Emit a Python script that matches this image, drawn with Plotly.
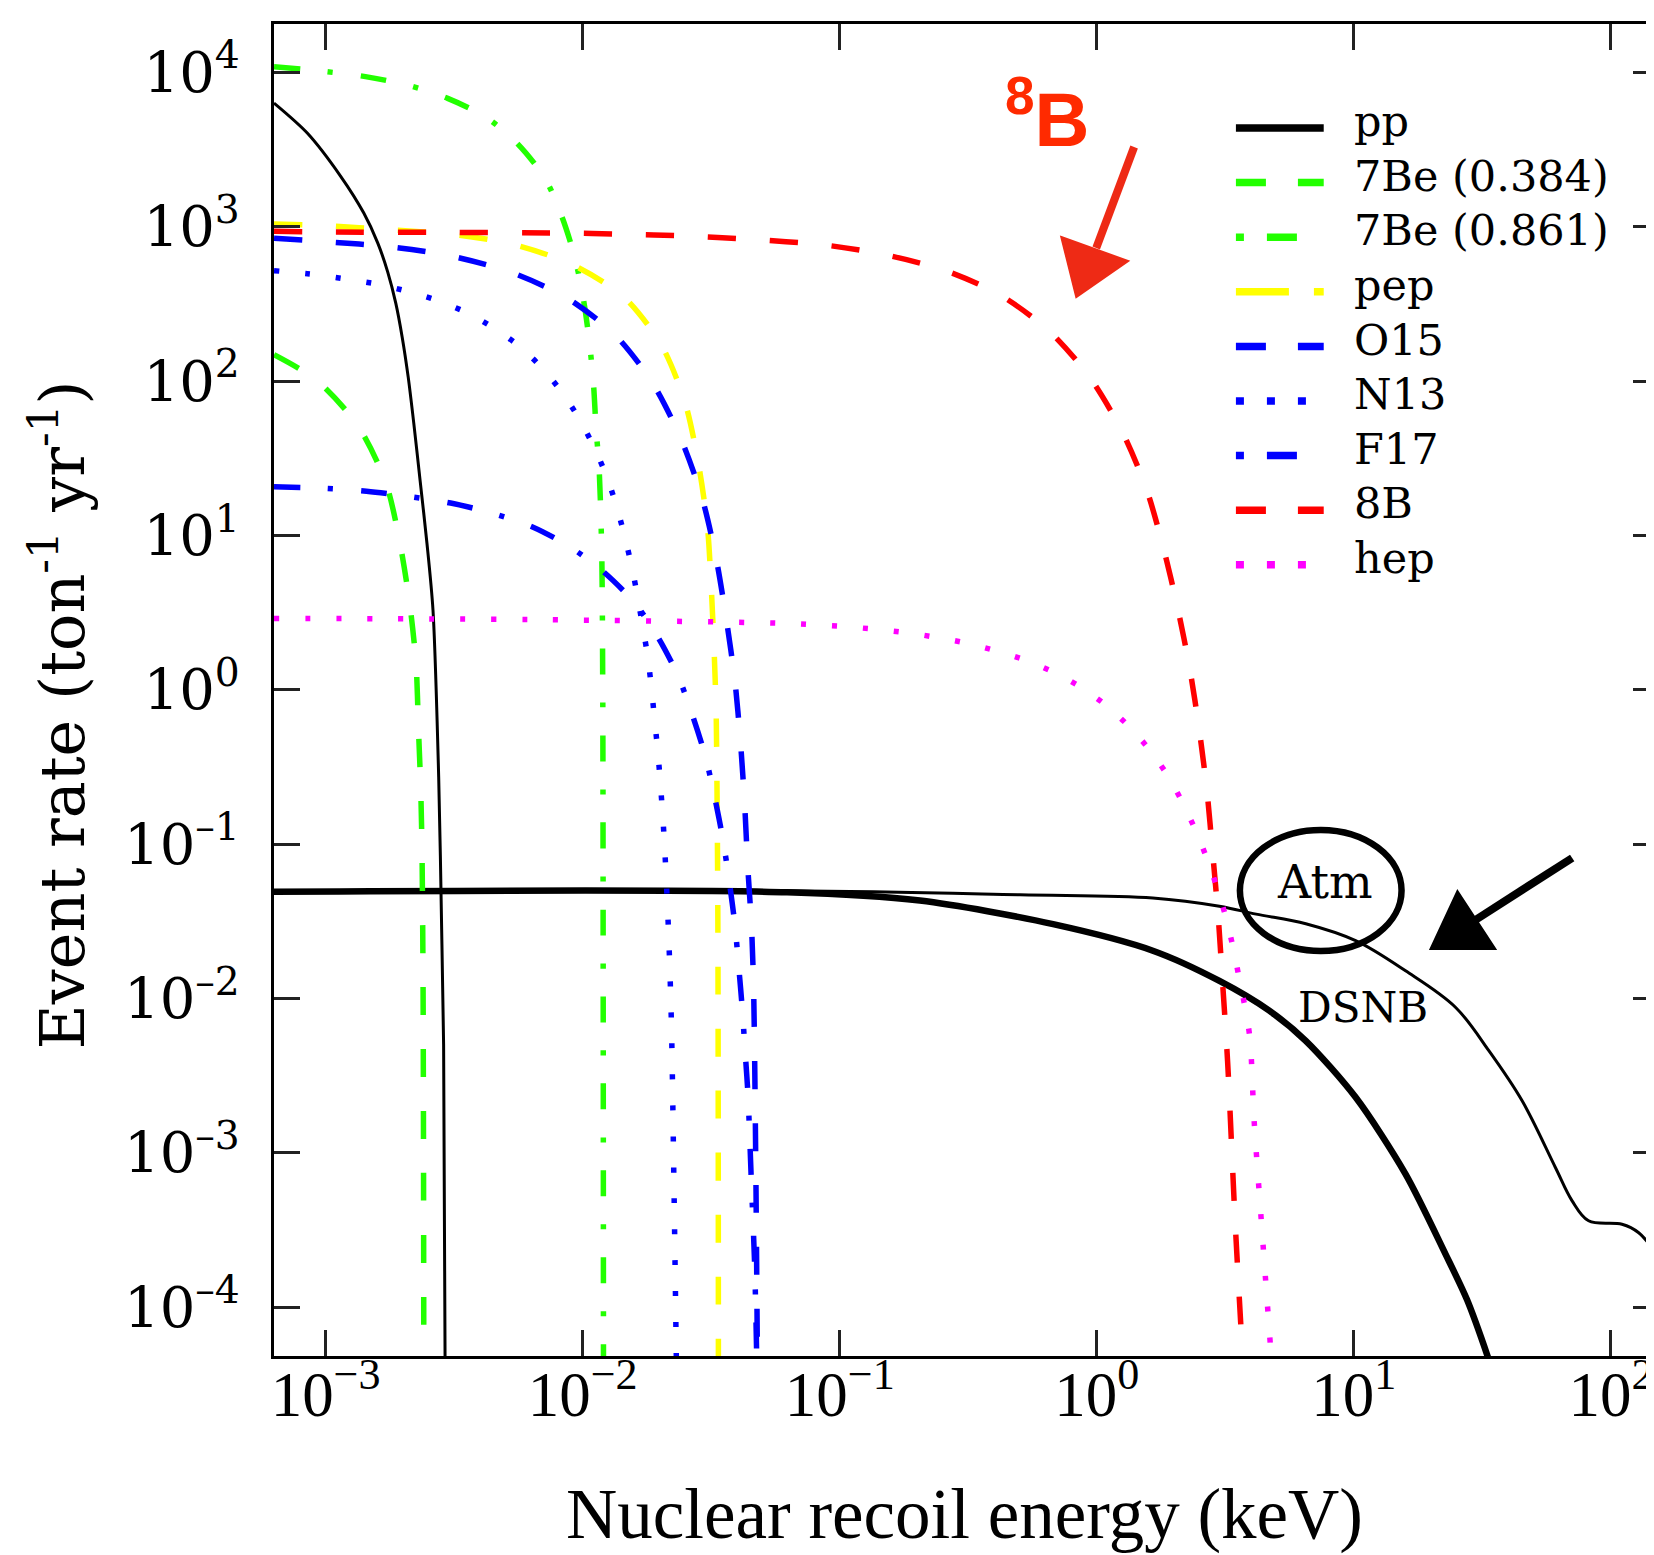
import plotly.graph_objects as go

# ---------------- data (E in keV, rate in ton^-1 yr^-1) ----------------
pp_E = [6.30e-4, 8.484e-4, 1.143e-3, 1.408e-3, 1.596e-3, 1.745e-3, 1.875e-3, 1.986e-3,
        2.096e-3, 2.203e-3, 2.333e-3, 2.479e-3, 2.617e-3, 2.754e-3, 2.835e-3, 2.878e-3,
        2.922e-3]
pp_R = [6320, 4043, 2128, 1225, 783, 508, 319.8, 192.5, 106.0, 53.4, 22.45, 8.90, 3.276,
        0.271, 0.02242, 5.04e-3, 2.2e-5]

be384_E = [6.30e-4, 9.23e-4, 1.334e-3, 1.710e-3, 1.928e-3, 2.123e-3, 2.249e-3, 2.296e-3,
           2.344e-3, 2.371e-3, 2.393e-3, 2.404e-3, 2.410e-3]
be384_R = [148, 101, 51.5, 22.3, 9.73, 3.64, 1.46, 0.577, 0.230, 0.0912, 0.0143, 1e-3, 4e-5]

be861_E = [6.30e-4, 9.84e-4, 1.429e-3, 2.094e-3, 2.985e-3, 4.236e-3, 5.598e-3, 7.145e-3,
           8.318e-3, 9.333e-3, 1.007e-2, 1.062e-2, 1.102e-2, 1.127e-2, 1.159e-2, 1.186e-2,
           1.197e-2, 1.202e-2, 1.205e-2]
be861_R = [10860, 10140, 9380, 8240, 6780, 5080, 3430, 2050, 1153, 627, 338, 179, 95.5,
           50.0, 26.9, 7.94, 1.0, 0.01, 4e-5]

pep_E = [6.30e-4, 1.021e-3, 1.770e-3, 3.076e-3, 5.297e-3, 8.974e-3, 1.439e-2, 2.028e-2,
         2.500e-2, 2.818e-2, 3.055e-2, 3.162e-2, 3.243e-2, 3.304e-2, 3.327e-2, 3.357e-2, 3.373e-2]
pep_R = [1040, 1014, 955, 895, 771, 575, 353, 170, 72.9, 29.4, 11.6, 4.69, 1.87, 0.736,
         0.292, 0.0316, 4e-5]

o15_E = [6.30e-4, 1.021e-3, 1.770e-3, 3.055e-3, 5.236e-3, 8.670e-3, 1.340e-2, 1.879e-2,
         2.421e-2, 2.917e-2, 3.304e-2, 3.622e-2, 3.908e-2, 4.111e-2, 4.266e-2, 4.385e-2,
         4.539e-2, 4.624e-2, 4.710e-2, 4.786e-2]
o15_R = [843, 798, 741, 647, 508, 346, 198, 95.9, 41.6, 17.4, 7.14, 2.85, 1.15, 0.457,
         0.182, 0.0729, 0.0289, 0.01146, 1e-3, 4e-5]

n13_E = [6.30e-4, 9.20e-4, 1.213e-3, 1.600e-3, 2.084e-3, 2.710e-3, 3.516e-3, 4.477e-3,
         5.623e-3, 6.871e-3, 8.222e-3, 9.572e-3, 1.091e-2, 1.222e-2, 1.337e-2, 1.439e-2,
         1.535e-2, 1.622e-2, 1.702e-2, 1.782e-2, 1.845e-2, 1.897e-2, 1.950e-2, 1.997e-2,
         2.075e-2, 2.158e-2, 2.215e-2, 2.265e-2, 2.317e-2]
n13_R = [519, 488, 457, 423, 381, 333, 279, 222, 170, 124, 86.5, 59.0, 39.2, 25.6, 16.6,
         10.7, 6.81, 4.33, 2.71, 1.73, 1.09, 0.687, 0.435, 0.274, 0.109, 0.0271, 6.76e-3,
         6.3e-4, 4e-5]

f17_E = [6.30e-4, 9.84e-4, 1.442e-3, 2.104e-3, 3.062e-3, 4.467e-3, 6.383e-3, 8.974e-3,
         1.208e-2, 1.596e-2, 1.963e-2, 2.355e-2, 2.673e-2, 3.000e-2, 3.266e-2, 3.516e-2,
         3.715e-2, 3.908e-2, 4.046e-2, 4.178e-2, 4.285e-2, 4.395e-2, 4.529e-2, 4.667e-2, 4.764e-2]
f17_R = [20.7, 20.2, 19.3, 17.9, 16.2, 13.9, 11.35, 8.38, 5.79, 3.64, 2.19, 1.22, 0.684,
         0.371, 0.200, 0.106, 0.0579, 0.0303, 0.0161, 8.53e-3, 4.54e-3, 2.40e-3, 6.68e-4,
         1.87e-4, 4e-5]

b8_E = [6.30e-4, 1.021e-3, 3.090e-3, 9.333e-3, 1.419e-2, 2.466e-2, 4.498e-2, 8.551e-2,
        0.1479, 0.2535, 0.4207, 0.6561, 0.9441, 1.256, 1.560, 1.816, 2.065, 2.301, 2.506,
        2.685, 2.825, 2.965, 3.076, 3.228, 3.451, 3.715]
b8_R = [933, 923, 918, 908, 895, 873, 828, 764, 661, 524, 361, 209, 104.5, 46.9, 19.95,
        8.30, 3.36, 1.36, 0.545, 0.217, 0.0863, 0.0344, 0.0137, 3.89e-3, 3.63e-4, 4e-5]

hep_E = [6.30e-4, 6.31e-3, 0.0590, 0.0780, 0.1028, 0.1361, 0.1795, 0.2360, 0.3097, 0.4046,
         0.5260, 0.6792, 0.8650, 1.089, 1.334, 1.603, 1.879, 2.148, 2.421, 2.679, 2.938,
         3.184, 3.396, 3.581, 3.784, 3.945, 4.093, 4.365, 4.808]
hep_R = [2.90, 2.85, 2.70, 2.64, 2.57, 2.47, 2.35, 2.19, 2.01, 1.79, 1.56, 1.30, 1.04,
         0.791, 0.579, 0.409, 0.281, 0.188, 0.123, 0.0809, 0.0520, 0.0332, 0.0211, 0.0135,
         8.53e-3, 5.46e-3, 1.62e-3, 3.63e-4, 4e-5]

atm_E = [6.30e-4, 0.0624, 0.502, 1.652, 3.0, 4.169, 6.501, 10.16, 15.89, 24.89, 33.50,
         45.08, 60.81, 70.63, 81.85, 110.4, 127.9, 154.2]
atm_R = [0.0497, 0.0499, 0.0470, 0.0448, 0.0396, 0.0352, 0.0305, 0.0237, 0.0151, 8.75e-3,
         4.59e-3, 2.18e-3, 8.04e-4, 4.89e-4, 3.63e-4, 3.45e-4, 3.05e-4, 2.10e-4]

dsnb_E = [6.30e-4, 0.0624, 0.2051, 0.6761, 1.652, 3.0, 4.688, 6.501, 10.16, 15.89, 22.75,
          27.54, 33.11, 34.67]
dsnb_R = [0.0492, 0.0488, 0.0431, 0.0303, 0.0204, 0.0130, 8.34e-3, 5.32e-3, 2.29e-3,
          7.28e-4, 2.20e-4, 1.12e-4, 4.83e-5, 3.8e-5]

x_tickvals = [1e-3, 1e-2, 1e-1, 1e0, 1e1, 1e2]
x_ticktext = ["10<sup>\u22123</sup>", "10<sup>\u22122</sup>", "10<sup>\u22121</sup>",
              "10<sup>0</sup>", "10<sup>1</sup>", "10<sup>2</sup>"]
y_tickvals = [1e-4, 1e-3, 1e-2, 1e-1, 1e0, 1e1, 1e2, 1e3, 1e4]
y_ticktext = ["10<sup>\u20134</sup>", "10<sup>\u20133</sup>", "10<sup>\u20132</sup>",
              "10<sup>\u20131</sup>", "10<sup>0</sup>", "10<sup>1</sup>", "10<sup>2</sup>",
              "10<sup>3</sup>", "10<sup>4</sup>"]

x_title = "Nuclear recoil energy (keV)"
y_title = "Event rate (ton<sup>-1</sup> yr<sup>-1</sup>)"

# ---------------- figure ----------------
W, H = 1654, 1555
ML, MR, MT, MB = 266, 0, 16, 207


def px(X):
    return (X - ML) / (W - ML - MR)


def py(Y):
    return (H - MB - Y) / (H - MT - MB)


GREEN = "#22FF00"
BLUE = "#0000FF"
DASH = "28px,34px"
DASHDOT = "26px,28px,5px,28px"
DOT = "5px,26px"

# name, x, y, colour, width, plot dash, legend-sample dash
series = [
    ("pp", pp_E, pp_R, "black", 3, "solid", "solid"),
    ("7Be (0.384)", be384_E, be384_R, GREEN, 5.5, DASH, "30px,32px"),
    ("7Be (0.861)", be861_E, be861_R, GREEN, 5.5, DASHDOT, "8px,23px,30px,40px"),
    ("pep", pep_E, pep_R, "#FFFF00", 5.5, DASH, "53px,25px,10px,10px"),
    ("O15", o15_E, o15_R, BLUE, 5.5, DASH, "30px,32px"),
    ("N13", n13_E, n13_R, BLUE, 5.5, DOT, "8px,23px"),
    ("F17", f17_E, f17_R, BLUE, 5.5, DASHDOT, "8px,23px,30px,40px"),
    ("8B", b8_E, b8_R, "#FF0000", 5.5, DASH, "30px,32px"),
    ("hep", hep_E, hep_R, "#FF00FF", 5.5, DOT, "8px,23px"),
]

fig = go.Figure()
fig.add_trace(go.Scatter(x=atm_E, y=atm_R, mode="lines", name="Atm", showlegend=False,
                         line=dict(color="black", width=3, shape="spline", smoothing=1.0)))
fig.add_trace(go.Scatter(x=dsnb_E, y=dsnb_R, mode="lines", name="DSNB", showlegend=False,
                         line=dict(color="black", width=6.5, shape="spline", smoothing=0.8)))
for name, xs, ys, col, w, dash, _ in series:
    fig.add_trace(go.Scatter(x=xs, y=ys, mode="lines", name=name, showlegend=False,
                             line=dict(color=col, width=w, dash=dash, shape="spline",
                                       smoothing=0.8)))

axis_common = dict(type="log", showgrid=False, zeroline=False, showline=True,
                   linecolor="black", linewidth=3, mirror="ticks", ticks="inside",
                   ticklen=26, tickwidth=2.5, tickcolor="#222222")

fig.update_xaxes(**axis_common, range=[-3.2007, 2.187], tickvals=x_tickvals,
                 ticktext=x_ticktext, ticklabelstandoff=-19,
                 tickfont=dict(family="Liberation Serif", size=63, color="black"))
fig.update_yaxes(**axis_common, range=[-4.316, 4.313], tickvals=y_tickvals,
                 ticktext=y_ticktext, ticklabelstandoff=20,
                 tickfont=dict(family="DejaVu Serif", size=56, color="black"))

fig.update_layout(
    width=W, height=H,
    margin=dict(l=ML, r=MR, t=MT, b=MB, pad=0),
    paper_bgcolor="white", plot_bgcolor="white",
    font=dict(family="DejaVu Serif", color="black"),
    showlegend=False,
)

# ---------------- legend (drawn by hand to match sample lengths) ----------------
LEG_X0, LEG_X1, LEG_TX = 1230, 1318, 1346
LEG_Y0, LEG_DY, LEG_FS = 120, 54.6, 43

annotations = []
shapes = []
for i, (name, _, _, col, w, _, ldash) in enumerate(series):
    yrow = LEG_Y0 + i * LEG_DY
    shapes.append(dict(type="line", xref="paper", yref="paper", x0=px(LEG_X0), x1=px(LEG_X1),
                       y0=py(yrow), y1=py(yrow),
                       line=dict(color=col, width=7.5, dash=ldash)))
    annotations.append(dict(x=px(LEG_TX), y=py(yrow - 0.16 * LEG_FS), xref="paper",
                            yref="paper", text=name, showarrow=False, xanchor="left",
                            yanchor="middle",
                            font=dict(family="DejaVu Serif", size=LEG_FS, color="black")))

annotations += [
    # axis titles
    dict(x=px(958), y=py(1518 - 0.16 * 71), xref="paper", yref="paper", text=x_title,
         showarrow=False, xanchor="center", yanchor="middle",
         font=dict(family="Liberation Serif", size=71, color="black")),
    dict(x=px(50), y=py(707), xref="paper", yref="paper", text=y_title, textangle=-90,
         showarrow=False, xanchor="center", yanchor="middle",
         font=dict(family="DejaVu Serif", size=62, color="black")),
    # labels
    dict(x=px(1041), y=py(106), xref="paper", yref="paper", text="<sup>8</sup>B",
         showarrow=False, xanchor="center", yanchor="middle",
         font=dict(family="Liberation Sans", size=76, color="#FF2A00", weight="bold")),
    dict(x=px(1319), y=py(882 - 7.5), xref="paper", yref="paper", text="Atm",
         showarrow=False, xanchor="center", yanchor="middle",
         font=dict(family="DejaVu Serif", size=46, color="black")),
    dict(x=px(1357), y=py(1006 - 7), xref="paper", yref="paper", text="DSNB",
         showarrow=False, xanchor="center", yanchor="middle",
         font=dict(family="DejaVu Serif", size=42, color="black")),
]


def tri(pts):
    return "M" + " L".join(f"{px(a):.5f},{py(b):.5f}" for a, b in pts) + " Z"


shapes += [
    # 8B arrow
    dict(type="line", xref="paper", yref="paper", x0=px(1128), y0=py(139), x1=px(1090),
         y1=py(240), line=dict(color="#EE2A15", width=8)),
    dict(type="path", xref="paper", yref="paper",
         path=tri([(1055, 229), (1122, 253), (1070, 289)]),
         fillcolor="#EE2A15", line=dict(color="#EE2A15", width=2)),
    # Atm arrow
    dict(type="line", xref="paper", yref="paper", x0=px(1567), y0=py(850), x1=px(1470),
         y1=py(912), line=dict(color="black", width=8)),
    dict(type="path", xref="paper", yref="paper",
         path=tri([(1452, 883), (1490, 941), (1425, 941)]),
         fillcolor="black", line=dict(color="black", width=2)),
    # Atm ellipse
    dict(type="circle", xref="paper", yref="paper", x0=px(1234), x1=px(1396),
         y0=py(943), y1=py(822), line=dict(color="black", width=6.5)),
]
fig.update_layout(annotations=annotations, shapes=shapes)

fig.write_html("out.html")
